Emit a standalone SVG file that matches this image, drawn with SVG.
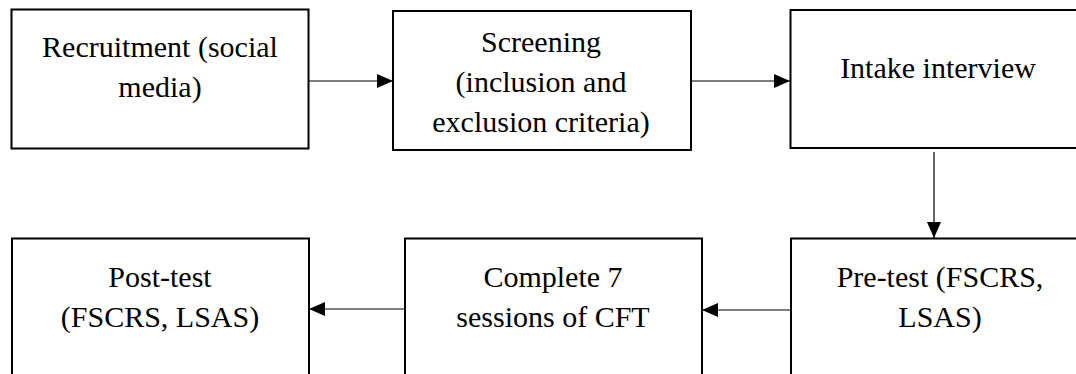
<svg xmlns="http://www.w3.org/2000/svg" width="1076" height="374" viewBox="0 0 1076 374">
<style>
.box{fill:#fff;stroke:#000;stroke-width:2}
.conn{stroke:#000;stroke-width:1.2;fill:none;marker-end:url(#ah)}
</style>
<defs>
<marker id="ah" markerUnits="userSpaceOnUse" markerWidth="16" markerHeight="14" refX="16" refY="7" orient="auto">
<path d="M0,0 L16,7 L0,14 Z" fill="#000"/>
</marker>
</defs>
<rect width="1076" height="374" fill="#fff"/>
<g id="n1">
<rect class="box" x="11.5" y="9.5" width="297" height="139"/>
<text x="160" y="57" font-size="30" font-family="Liberation Serif" text-anchor="middle">Recruitment (social</text>
<text x="160" y="97" font-size="30" font-family="Liberation Serif" text-anchor="middle">media)</text>
</g>
<g id="n2">
<rect class="box" x="393" y="11" width="298" height="139"/>
<text x="541" y="52" font-size="30" font-family="Liberation Serif" text-anchor="middle">Screening</text>
<text x="541" y="92" font-size="30" font-family="Liberation Serif" text-anchor="middle">(inclusion and</text>
<text x="541" y="132" font-size="30" font-family="Liberation Serif" text-anchor="middle">exclusion criteria)</text>
</g>
<g id="n3">
<rect class="box" x="790.5" y="10" width="296" height="138"/>
<text x="938" y="78" font-size="30" font-family="Liberation Serif" text-anchor="middle">Intake interview</text>
</g>
<g id="n4">
<rect class="box" x="791" y="238.5" width="296" height="140"/>
<text x="940" y="287" font-size="30" font-family="Liberation Serif" text-anchor="middle">Pre-test (FSCRS,</text>
<text x="940" y="327" font-size="30" font-family="Liberation Serif" text-anchor="middle">LSAS)</text>
</g>
<g id="n5">
<rect class="box" x="405" y="238.5" width="297" height="140"/>
<text x="553" y="287" font-size="30" font-family="Liberation Serif" text-anchor="middle">Complete 7</text>
<text x="553" y="327" font-size="30" font-family="Liberation Serif" text-anchor="middle">sessions of CFT</text>
</g>
<g id="n6">
<rect class="box" x="12" y="238.5" width="297" height="140"/>
<text x="160" y="287" font-size="30" font-family="Liberation Serif" text-anchor="middle">Post-test</text>
<text x="160" y="327" font-size="30" font-family="Liberation Serif" text-anchor="middle">(FSCRS, LSAS)</text>
</g>
<g id="connectors">
<line class="conn" x1="309" y1="81" x2="393" y2="81"/>
<line class="conn" x1="691" y1="81" x2="790" y2="81"/>
<line class="conn" x1="934" y1="152" x2="934" y2="238"/>
<line class="conn" x1="791" y1="310" x2="702" y2="310"/>
<line class="conn" x1="405" y1="309" x2="309" y2="309"/>
</g>
</svg>
